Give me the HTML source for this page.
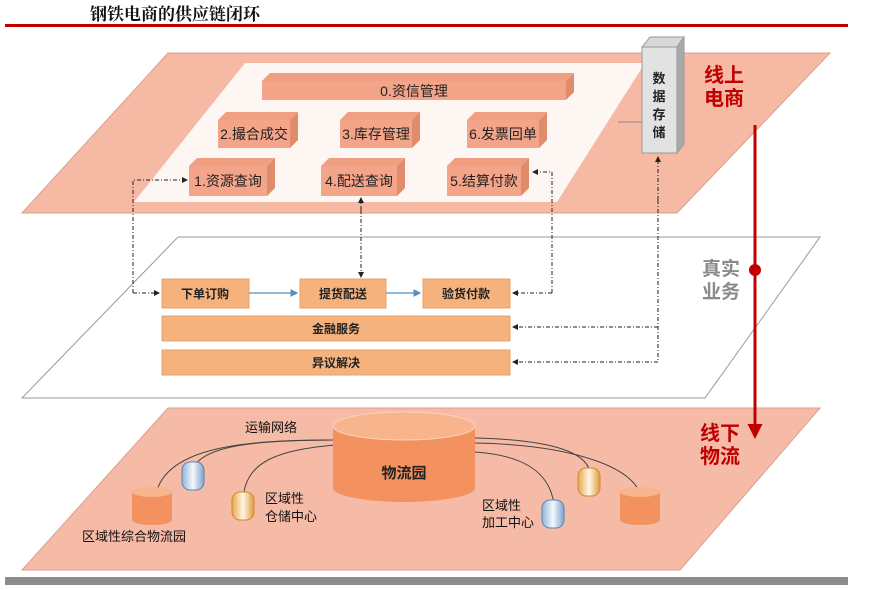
<!DOCTYPE html>
<html><head><meta charset="utf-8"><style>
body{margin:0;background:#fff;width:874px;height:585px;overflow:hidden}
svg text{font-family:"Liberation Sans","Noto Sans CJK SC",sans-serif}
</style></head><body>
<svg width="874" height="585" viewBox="0 0 874 585" xmlns="http://www.w3.org/2000/svg">
<defs>
<marker id="a" markerWidth="6" markerHeight="6" refX="5" refY="3" orient="auto"><path d="M0,0L6,3L0,6z" fill="#222"/></marker>
<marker id="b" markerWidth="6" markerHeight="6" refX="5" refY="3" orient="auto"><path d="M0,0L6,3L0,6z" fill="#5b8ec0"/></marker>
<marker id="r" markerWidth="5" markerHeight="5" refX="2" refY="2.5" orient="auto"><path d="M0,0L5,2.5L0,5z" fill="#c00000"/></marker>
<linearGradient id="bl" x1="0" x2="1"><stop offset="0" stop-color="#8fb4d8"/><stop offset=".5" stop-color="#f4f8fc"/><stop offset="1" stop-color="#7aa3cc"/></linearGradient>
<linearGradient id="og" x1="0" x2="1"><stop offset="0" stop-color="#e9a64a"/><stop offset=".5" stop-color="#fff6e6"/><stop offset="1" stop-color="#e09a3c"/></linearGradient>
</defs>
<text x="90" y="20" font-size="17" font-weight="bold" fill="#111" style="font-family:'Noto Serif CJK SC',serif">钢铁电商的供应链闭环</text>
<rect x="5" y="24" width="843" height="3" fill="#c00000"/>

<polygon points="168,53 830,53 677,213 22,213" fill="#f5b9a4" stroke="#d9a090"/>
<polygon points="245,63 645,63 557,202 134,202" fill="#fdf6f2"/>
<g font-size="14" fill="#222" text-anchor="middle">
<polygon points="262,81 270,73 574,73 566,81" fill="#f0a080"/><polygon points="566,81 574,73 574,92 566,100" fill="#e08c6c"/>
<rect x="262" y="81" width="304" height="19" fill="#f4a589"/>
<text x="414" y="96">0.资信管理</text>
<polygon points="218,120 226,112 298,112 290,120" fill="#f0a080"/><polygon points="290,120 298,112 298,140 290,148" fill="#e08c6c"/><rect x="218" y="120" width="72" height="28" fill="#f4a589"/><text x="254" y="139">2.撮合成交</text>
<polygon points="340,120 348,112 420,112 412,120" fill="#f0a080"/><polygon points="412,120 420,112 420,140 412,148" fill="#e08c6c"/><rect x="340" y="120" width="72" height="28" fill="#f4a589"/><text x="376" y="139">3.库存管理</text>
<polygon points="467,120 475,112 547,112 539,120" fill="#f0a080"/><polygon points="539,120 547,112 547,140 539,148" fill="#e08c6c"/><rect x="467" y="120" width="72" height="28" fill="#f4a589"/><text x="503" y="139">6.发票回单</text>
<polygon points="189,166 197,158 275,158 267,166" fill="#f0a080"/><polygon points="267,166 275,158 275,188 267,196" fill="#e08c6c"/><rect x="189" y="166" width="78" height="30" fill="#f4a589"/><text x="228" y="186">1.资源查询</text>
<polygon points="321,166 329,158 405,158 397,166" fill="#f0a080"/><polygon points="397,166 405,158 405,188 397,196" fill="#e08c6c"/><rect x="321" y="166" width="76" height="30" fill="#f4a589"/><text x="359" y="186">4.配送查询</text>
<polygon points="447,166 455,158 529,158 521,166" fill="#f0a080"/><polygon points="521,166 529,158 529,188 521,196" fill="#e08c6c"/><rect x="447" y="166" width="74" height="30" fill="#f4a589"/><text x="484" y="186">5.结算付款</text>
</g>
<line x1="618" y1="122" x2="642" y2="122" stroke="#888"/>
<polygon points="642,47 650,37 684,37 677,47" fill="#d8d8d8" stroke="#999"/>
<polygon points="677,47 684,37 684,144 677,153" fill="#a9a9a9" stroke="#999"/>
<rect x="642" y="47" width="35" height="106" fill="#e2e2e2" stroke="#999"/>
<g font-size="13" font-weight="bold" fill="#222" text-anchor="middle"><text x="659" y="83">数</text><text x="659" y="101">据</text><text x="659" y="119">存</text><text x="659" y="137">储</text></g>
<g font-size="20" font-weight="bold" fill="#c00000"><text x="704" y="82">线上</text><text x="704" y="105">电商</text></g>

<polygon points="178,237 820,237 705,398 22,398" fill="#fff" stroke="#999"/>
<g font-size="19" font-weight="bold" fill="#8a8a8a"><text x="702" y="275">真实</text><text x="702" y="298">业务</text></g>
<g font-size="12" font-weight="bold" fill="#222" text-anchor="middle">
<rect x="162" y="279" width="87" height="29" fill="#f6b27c" stroke="#e8a06a"/><text x="205" y="298">下单订购</text>
<rect x="300" y="279" width="86" height="29" fill="#f6b27c" stroke="#e8a06a"/><text x="343" y="298">提货配送</text>
<rect x="423" y="279" width="87" height="29" fill="#f6b27c" stroke="#e8a06a"/><text x="466" y="298">验货付款</text>
<rect x="162" y="316" width="348" height="25" fill="#f6b27c" stroke="#e8a06a"/><text x="336" y="333">金融服务</text>
<rect x="162" y="350" width="348" height="25" fill="#f6b27c" stroke="#e8a06a"/><text x="336" y="367">异议解决</text>
</g>
<line x1="249" y1="293" x2="297" y2="293" stroke="#5b8ec0" stroke-width="1.3" marker-end="url(#b)"/>
<line x1="386" y1="293" x2="420" y2="293" stroke="#5b8ec0" stroke-width="1.3" marker-end="url(#b)"/>
<g fill="none" stroke="#222" stroke-dasharray="4,2,1,2">
<polyline points="133,293 133,180 187,180" marker-end="url(#a)"/>
<polyline points="133,293 159,293" marker-end="url(#a)"/>
<line x1="361" y1="210" x2="361" y2="198" marker-end="url(#a)"/>
<line x1="361" y1="210" x2="361" y2="277" marker-end="url(#a)"/>
<polyline points="552,293 552,172 533,172" marker-end="url(#a)"/>
<line x1="552" y1="293" x2="513" y2="293" marker-end="url(#a)"/>
<line x1="658" y1="200" x2="658" y2="157" marker-end="url(#a)"/>
<polyline points="658,200 658,362 513,362" marker-end="url(#a)"/>
<line x1="658" y1="327" x2="513" y2="327" marker-end="url(#a)"/>
</g>

<polygon points="168,408 820,408 680,570 22,570" fill="#f6bba6" stroke="#d9a090"/>
<line x1="755" y1="125" x2="755" y2="430" stroke="#c00000" stroke-width="3" marker-end="url(#r)"/>
<circle cx="755" cy="270" r="6" fill="#c00000"/>
<g fill="none" stroke="#444" stroke-width="1">
<path d="M335,440 C250,440 160,445 155,500"/>
<path d="M335,440 C260,440 200,445 193,470"/>
<path d="M335,445 C280,450 245,460 243,500"/>
<path d="M475,438 C560,440 590,455 590,475"/>
<path d="M475,443 C580,445 635,470 640,495"/>
<path d="M475,452 C520,455 550,470 554,505"/>
</g>
<path d="M333,426 L333,488 A71,14 0 0 0 475,488 L475,426 Z" fill="#f3925e"/>
<ellipse cx="404" cy="426" rx="71" ry="14" fill="#f8b48c" stroke="#fbd4bb"/>
<text x="404" y="478" font-size="15" font-weight="bold" fill="#222" text-anchor="middle">物流园</text>
<path d="M132,492 L132,520 A20,5 0 0 0 172,520 L172,492 Z" fill="#f3925e"/><ellipse cx="152" cy="492" rx="20" ry="5" fill="#f8b48c"/>
<path d="M620,492 L620,520 A20,5 0 0 0 660,520 L660,492 Z" fill="#f3925e"/><ellipse cx="640" cy="492" rx="20" ry="5" fill="#f8b48c"/>
<rect x="182" y="462" width="22" height="28" rx="8" fill="url(#bl)" stroke="#5a86b8"/>
<rect x="542" y="500" width="22" height="28" rx="8" fill="url(#bl)" stroke="#5a86b8"/>
<rect x="232" y="492" width="22" height="28" rx="8" fill="url(#og)" stroke="#d08a30"/>
<rect x="578" y="468" width="22" height="28" rx="8" fill="url(#og)" stroke="#d08a30"/>
<g font-size="13" fill="#111">
<text x="245" y="432">运输网络</text>
<text x="265" y="503">区域性</text><text x="265" y="521">仓储中心</text>
<text x="482" y="510">区域性</text><text x="482" y="527">加工中心</text>
<text x="82" y="541">区域性综合物流园</text>
</g>
<g font-size="20" font-weight="bold" fill="#c00000"><text x="700" y="440">线下</text><text x="700" y="463">物流</text></g>
<rect x="5" y="577" width="843" height="8" fill="#8c8c8c"/>
</svg>
</body></html>
